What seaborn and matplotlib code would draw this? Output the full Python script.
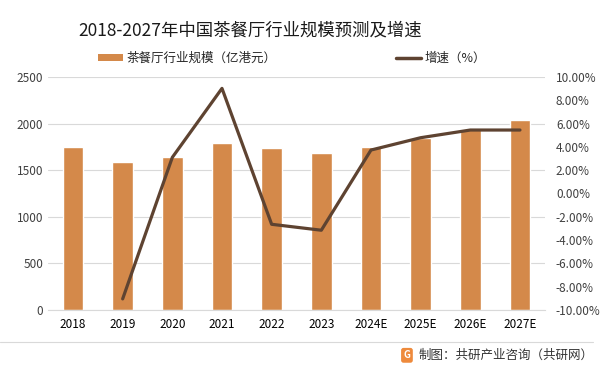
import numpy as np
import pandas as pd
import matplotlib.pyplot as plt
import seaborn as sns
from matplotlib.patches import Patch
from matplotlib.lines import Line2D
from matplotlib.ticker import FuncFormatter

years = ['2018', '2019', '2020', '2021', '2022', '2023', '2024E', '2025E', '2026E', '2027E']
scale = [1750, 1590, 1645, 1795, 1742, 1688, 1749, 1842, 1942, 2039]
growth_years = ['2019', '2020', '2021', '2022', '2023', '2024E', '2025E', '2026E', '2027E']
growth = [-9.06, 3.10, 9.03, -2.65, -3.16, 3.73, 4.79, 5.45, 5.45]

bar_color = '#D4894A'
line_color = '#5E4331'

sns.set_style('white')
plt.rcParams['font.family'] = ['Noto Sans CJK SC', 'DejaVu Sans']

fig = plt.figure(figsize=(6.02, 3.76), dpi=100)
ax = fig.add_axes([0.08, 0.176, 0.825, 0.619])

df = pd.DataFrame({'year': years, 'scale': scale})
sns.barplot(data=df, x='year', y='scale', color=bar_color, width=0.42,
            saturation=1, ax=ax)
ax.set_ylim(0, 2500)
ax.set_yticks(range(0, 2501, 500))
ax.grid(axis='y', color='#d9d9d9', linewidth=0.8)
ax.set_axisbelow(True)
for s in ['top', 'left', 'right']:
    ax.spines[s].set_visible(False)
ax.spines['bottom'].set_color('#d9d9d9')
ax.set_xlabel('')
ax.set_ylabel('')
ax.tick_params(axis='both', length=0, labelsize=8.5, colors='#404040')
ax.tick_params(axis='x', pad=6, colors='#000000')
ax.set_xlim(-0.5, len(years) - 0.5)

ax2 = ax.twinx()
gdf = pd.DataFrame({'year': growth_years, 'growth': growth})
sns.lineplot(data=gdf, x='year', y='growth', color=line_color, linewidth=2.3,
             sort=False, ax=ax2)
ax2.set_ylim(-10, 10)
ax2.set_yticks(np.arange(-10, 10.1, 2))
ax2.yaxis.set_major_formatter(FuncFormatter(lambda v, p: f'{v:.2f}%'))
ax2.set_ylabel('')
ax2.tick_params(axis='y', length=0, labelsize=8.5, colors='#404040', pad=8)
for s in ['top', 'left', 'right', 'bottom']:
    ax2.spines[s].set_visible(False)
ax.set_xlim(-0.5, len(years) - 0.5)

fig.text(0.415, 0.92, '2018-2027年中国茶餐厅行业规模预测及增速', ha='center',
         va='center', fontsize=12.5, color='#1a1a1a')

handles = [Patch(facecolor=bar_color, edgecolor='none'),
           Line2D([], [], color=line_color, linewidth=2.5)]
fig.legend(handles, ['茶餐厅行业规模（亿港元）', '增速（%）'], ncol=2,
           loc='center', bbox_to_anchor=(0.485, 0.845), frameon=False,
           fontsize=9, columnspacing=9.5, handlelength=2.0, handleheight=0.5,
           handletextpad=0.3)

fig.add_artist(Line2D([0.0, 0.985], [0.09, 0.09], color='#d9d9d9', linewidth=0.8))
fig.text(0.676, 0.055, 'G', ha='center', va='center', fontsize=7, color='white',
         fontweight='bold',
         bbox=dict(boxstyle='round,pad=0.25', facecolor='#EE8A3C', edgecolor='none'))
fig.text(0.695, 0.055, '制图：共研产业咨询（共研网）', ha='left', va='center',
         fontsize=9, color='#333333')

fig.savefig('out.png', dpi=100)
